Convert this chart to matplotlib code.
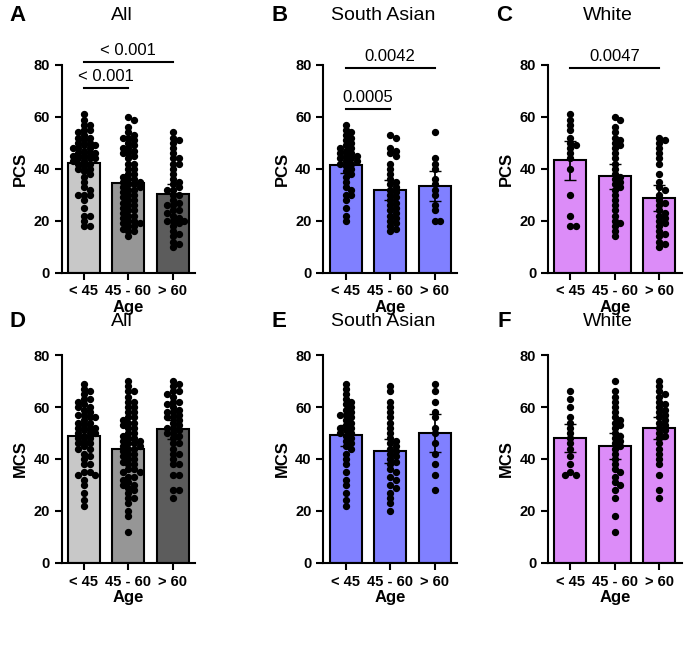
import numpy as np
import matplotlib
matplotlib.use("Agg")
import matplotlib.pyplot as plt

groups = ["< 45", "45 - 60", "> 60"]
sa_pcs = [[57,55,54,53,52,51,50,49,48,48,47,46,46,45,45,44,44,43,43,42,42,41,40,39,38,37,35,33,32,30,28,25,22,20,30],
          [53,52,48,47,46,45,42,40,38,36,35,34,33,32,31,30,29,28,27,26,25,24,23,22,21,20,19,18,17,16],
          [54,44,42,40,36,34,32,30,26,24,20,20]]
wh_pcs = [[61,59,57,55,52,50,49,48,46,44,40,30,22,18,18],
          [60,59,56,54,52,51,50,49,48,46,44,42,40,38,37,36,35,34,33,32,30,28,26,24,22,20,19,18,16,14],
          [52,51,50,48,46,44,42,38,35,33,32,30,28,27,26,24,23,22,21,20,19,18,16,15,14,12,11,10]]
sa_mcs = [[69,67,65,63,62,61,60,59,58,57,57,56,55,54,53,52,52,51,50,50,49,48,47,46,45,44,42,40,38,35,32,30,27,24,22],
          [68,66,62,60,58,56,54,52,50,48,47,46,45,44,43,42,41,40,39,38,36,35,33,32,30,29,27,25,23,20],
          [69,66,62,58,56,52,50,46,42,38,34,28]]
wh_mcs = [[66,63,60,56,54,52,50,48,46,44,41,38,35,34,34],
          [70,66,64,62,60,58,56,55,54,53,52,50,49,48,47,46,45,44,42,40,38,36,35,33,31,30,28,25,18,12],
          [70,68,66,65,64,62,61,60,59,58,57,56,55,54,53,52,51,50,49,48,46,44,42,40,38,34,28,25]]
all_pcs = [a + b for a, b in zip(sa_pcs, wh_pcs)]
all_mcs = [a + b for a, b in zip(sa_mcs, wh_mcs)]

titles = ["All", "South Asian", "White"]
letters = [["A", "B", "C"], ["D", "E", "F"]]
colors = [["#c8c8c8", "#969696", "#5c5c5c"], ["#8080ff"] * 3, ["#dc8cf8"] * 3]
sig = [[((0, 1), 71, "< 0.001"), ((0, 2), 81, "< 0.001")],
       [((0, 1), 63, "0.0005"), ((0, 2), 79, "0.0042")],
       [((0, 2), 79, "0.0047")]]

plt.rcParams['font.family'] = ['Arial', 'Liberation Sans', 'DejaVu Sans']
fig = plt.figure(figsize=(6.85, 6.7), dpi=100)
lefts = [0.09, 0.472, 0.80]
bottoms = [0.593, 0.16]
W, H = 0.195, 0.31

def swarm(vals, xc, xs=44.0, ys=2.6, d=5.6):
    placed = []
    out = []
    for v in sorted(vals, reverse=True):
        for k in range(0, 40):
            cand = [0] if k == 0 else [k, -k]
            ok = None
            for c in cand:
                ox = c * d * 0.5
                if all((ox - px) ** 2 + ((v - pv) * ys) ** 2 >= d * d * 0.8 for px, pv in placed):
                    ok = ox
                    break
            if ok is not None:
                placed.append((ok, v))
                out.append((xc + ok / xs, v))
                break
    return out

data = [[all_pcs, sa_pcs, wh_pcs], [all_mcs, sa_mcs, wh_mcs]]
for r in range(2):
    for c in range(3):
        ax = fig.add_axes([lefts[c], bottoms[r], W, H])
        ds = data[r][c]
        for i, v in enumerate(ds):
            v = np.array(v, float)
            m = v.mean(); ci = 1.96 * v.std(ddof=1) / np.sqrt(len(v))
            ax.bar(i, m, width=0.72, color=colors[c][i], edgecolor="black", linewidth=1.5, zorder=1)
            pts = swarm(v, i)
            ax.scatter([p[0] for p in pts], [p[1] for p in pts], s=18, color="black", zorder=3, clip_on=False)
            ax.errorbar(i, m, yerr=ci, color="black", capsize=4, lw=1.3, zorder=4)
        ax.set_xlim(-0.5, 2.5); ax.set_ylim(0, 80)
        ax.set_yticks([0, 20, 40, 60, 80])
        ax.set_xticks(range(3)); ax.set_xticklabels(groups)
        for s in ["top", "right"]:
            ax.spines[s].set_visible(False)
        for s in ["left", "bottom"]:
            ax.spines[s].set_linewidth(1.5)
        ax.tick_params(width=1.5, length=5, labelsize=10.5)
        for t in ax.get_xticklabels() + ax.get_yticklabels():
            t.set_fontweight("bold")
        ax.set_xlabel("Age", fontsize=12, fontweight="bold", labelpad=1)
        ax.set_ylabel("PCS" if r == 0 else "MCS", fontsize=12, fontweight="bold")
        ty = 1.24 if r == 0 else 1.16
        ax.text(0.45, ty, titles[c], transform=ax.transAxes, fontsize=14, ha="center", va="center")
        ax.text(-0.33, ty, letters[r][c], transform=ax.transAxes, fontsize=16, fontweight="bold", ha="center", va="center")
        if r == 0:
            for (a, b), y, lab in sig[c]:
                ax.plot([a, b], [y, y], color="black", lw=1.5, clip_on=False)
                ax.text((a + b) / 2, y + 1.5, lab, ha="center", va="bottom", fontsize=12, clip_on=False)
fig.savefig("out.png", dpi=100)
